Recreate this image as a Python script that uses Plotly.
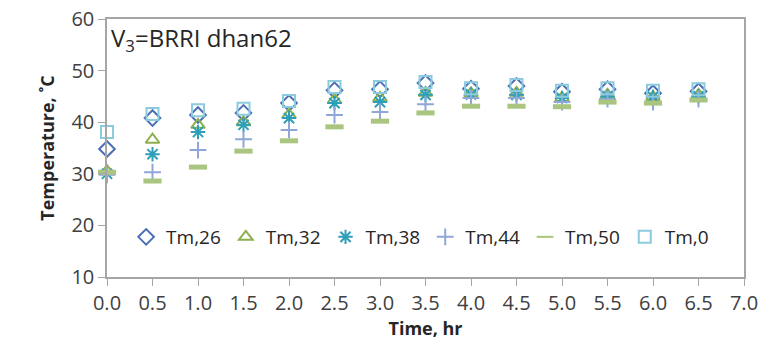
import plotly.graph_objects as go

time_hr = [0.0, 0.5, 1.0, 1.5, 2.0, 2.5, 3.0, 3.5, 4.0, 4.5, 5.0, 5.5, 6.0, 6.5]
tm26 = [34.8, 40.8, 41.4, 41.8, 43.7, 46.2, 46.4, 47.6, 46.5, 47.0, 45.9, 46.4, 45.6, 46.0]
tm32 = [30.5, 36.6, 39.5, 40.0, 41.4, 44.3, 44.7, 45.7, 45.6, 45.7, 44.7, 45.3, 44.9, 45.3]
tm38 = [30.0, 33.8, 38.1, 39.5, 40.8, 43.7, 43.9, 45.3, 45.4, 45.3, 44.7, 45.0, 44.9, 45.0]
tm44 = [29.8, 30.3, 34.6, 36.7, 38.5, 41.4, 42.0, 43.5, 44.7, 44.7, 43.9, 44.5, 43.9, 44.5]
tm50 = [30.3, 28.6, 31.3, 34.4, 36.4, 39.1, 40.2, 41.8, 43.1, 43.1, 43.0, 43.9, 43.7, 44.3]
tm0 = [38.1, 41.6, 42.3, 42.6, 44.1, 46.8, 46.8, 47.8, 46.6, 47.2, 46.1, 46.6, 46.1, 46.4]

series = [
    ("Tm,26", tm26, "diamond-open", "#4A6FB5", 12, 2),
    ("Tm,32", tm32, "triangle-up-open", "#8DB04E", 12, 2),
    ("Tm,38", tm38, "asterisk-open", "#2E9FB8", 12, 2),
    ("Tm,44", tm44, "cross-thin-open", "#8FA6D8", 12, 2),
    ("Tm,50", tm50, "line-ew-open", "#AAC57F", 13, 5),
    ("Tm,0", tm0, "square-open", "#8CCBDD", 12, 2),
]

fig = go.Figure()
for name, vals, sym, col, sz, lw in series:
    fig.add_trace(go.Scatter(
        x=time_hr, y=vals, mode="markers", name=name, cliponaxis=False,
        marker=dict(symbol=sym, size=sz, color=col, line=dict(color=col, width=lw)),
    ))

font_family = "Open Sans, sans-serif"
fig.update_layout(
    width=766, height=340,
    margin=dict(l=107, r=22, t=19, b=63),
    paper_bgcolor="white", plot_bgcolor="white",
    font=dict(family=font_family, size=19, color="#404040"),
    showlegend=True,
    legend=dict(
        orientation="h", x=0.03, y=0.155, xanchor="left", yanchor="middle",
        bgcolor="rgba(0,0,0,0)", font=dict(size=19, color="#262626"),
        itemwidth=30, tracegroupgap=0, itemsizing="constant",
    ),
    xaxis=dict(
        range=[0, 7], dtick=0.5, tick0=0, tickformat=".1f", automargin=False,
        showgrid=False, zeroline=False, showline=True, linecolor="#A6A6A6",
        linewidth=1.5, mirror=True, ticks="outside", ticklen=7, tickcolor="#A6A6A6",
        tickfont=dict(size=20, color="#404040"),
        title=dict(text="<b>Time, hr</b>", font=dict(size=18, color="#262626"), standoff=0),
    ),
    yaxis=dict(
        range=[10, 60], dtick=10, automargin=False,
        showgrid=False, zeroline=False, showline=True, linecolor="#A6A6A6",
        linewidth=1.5, mirror=True, ticks="outside", ticklen=7, tickcolor="#A6A6A6",
        tickfont=dict(size=20, color="#404040"),
        title=dict(text="<b>Temperature, ˚C</b>", font=dict(size=18, color="#262626"), standoff=12),
    ),
    annotations=[dict(
        text="V<sub>3</sub>=BRRI dhan62", xref="paper", yref="paper",
        x=0.0, y=1.0, xanchor="left", yanchor="top", xshift=2, showarrow=False,
        font=dict(size=24, color="#262626", family=font_family),
    )],
)

fig.write_html("out.html")
